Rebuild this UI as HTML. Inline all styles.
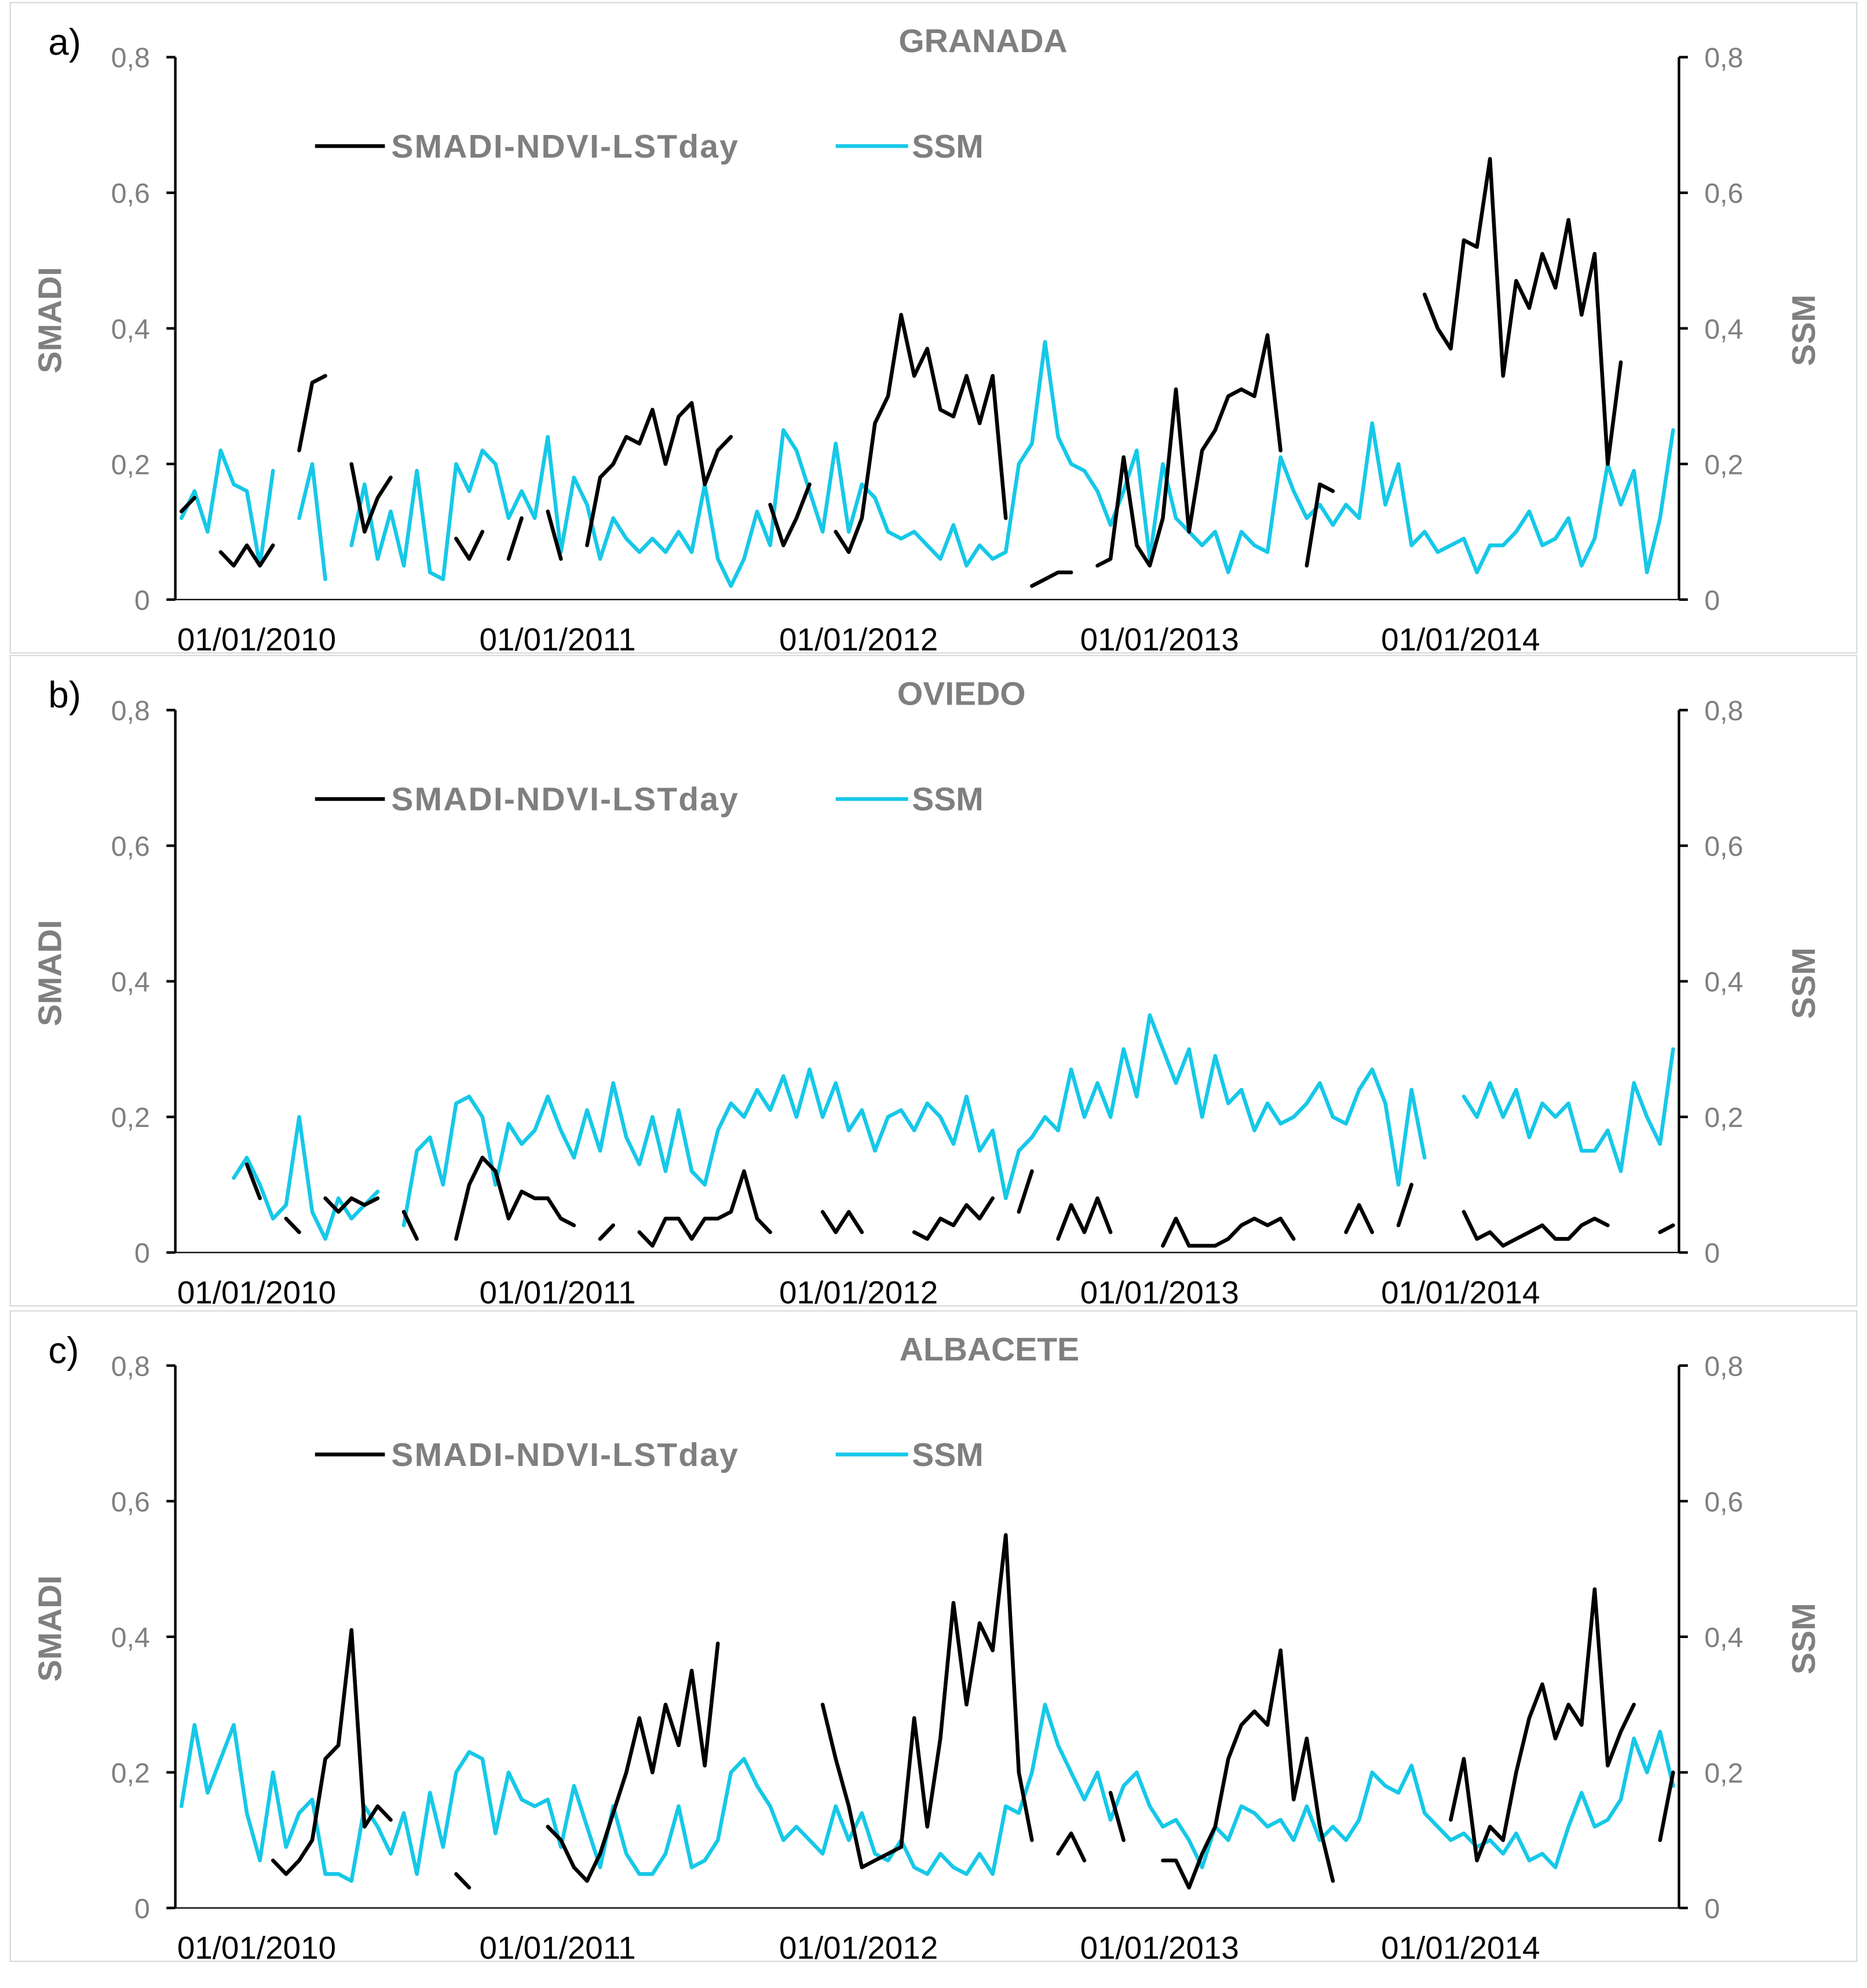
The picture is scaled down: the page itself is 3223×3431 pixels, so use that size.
<!DOCTYPE html>
<html><head><meta charset="utf-8"><style>
html,body{margin:0;padding:0;background:#fff;}
svg{display:block;}
text{font-family:"Liberation Sans",sans-serif;}
</style></head><body>
<svg id="chart" width="3223" height="3431" viewBox="0 0 1470 1565" xmlns="http://www.w3.org/2000/svg"></svg>
<script>
const n = null;
const panelNames = ["GRANADA", "OVIEDO", "ALBACETE"];
const panelLetters = ["a)", "b)", "c)"];
const yTicks = [0, 0.2, 0.4, 0.6, 0.8];
const yTickLabels = ["0", "0,2", "0,4", "0,6", "0,8"];
const xTickYears = [2010, 2011, 2012, 2013, 2014];
const xTickLabels = ["01/01/2010", "01/01/2011", "01/01/2012", "01/01/2013", "01/01/2014"];
const startYear = 2009.75;
const stepsPerYear = 23;
const granadaSmadi = [.13,.15,n,.07,.05,.08,.05,.08,n,.22,
.32,.33,n,.2,.1,.15,.18,n,.2,n,
n,.09,.06,.1,n,.06,.12,n,.13,.06,
n,.08,.18,.2,.24,.23,.28,.2,.27,.29,
.17,.22,.24,n,n,.14,.08,.12,.17,n,
.1,.07,.12,.26,.3,.42,.33,.37,.28,.27,
.33,.26,.33,.12,n,.02,.03,.04,.04,n,
.05,.06,.21,.08,.05,.12,.31,.1,.22,.25,
.3,.31,.3,.39,.22,n,.05,.17,.16,n,
n,n,n,n,n,.45,.4,.37,.53,.52,
.65,.33,.47,.43,.51,.46,.56,.42,.51,.2,
.35,n,n,n,n];
const granadaSsm = [.12,.16,.1,.22,.17,.16,.05,.19,n,.12,
.2,.03,n,.08,.17,.06,.13,.05,.19,.04,
.03,.2,.16,.22,.2,.12,.16,.12,.24,.07,
.18,.14,.06,.12,.09,.07,.09,.07,.1,.07,
.17,.06,.02,.06,.13,.08,.25,.22,.16,.1,
.23,.1,.17,.15,.1,.09,.1,.08,.06,.11,
.05,.08,.06,.07,.2,.23,.38,.24,.2,.19,
.16,.11,.16,.22,.06,.2,.12,.1,.08,.1,
.04,.1,.08,.07,.21,.16,.12,.14,.11,.14,
.12,.26,.14,.2,.08,.1,.07,.08,.09,.04,
.08,.08,.1,.13,.08,.09,.12,.05,.09,.2,
.14,.19,.04,.12,.25];
const oviedoSmadi = [n,n,n,n,n,.13,.08,n,.05,.03,
n,.08,.06,.08,.07,.08,n,.06,.02,n,
n,.02,.1,.14,.12,.05,.09,.08,.08,.05,
.04,n,.02,.04,n,.03,.01,.05,.05,.02,
.05,.05,.06,.12,.05,.03,n,n,n,.06,
.03,.06,.03,n,n,n,.03,.02,.05,.04,
.07,.05,.08,n,.06,.12,n,.02,.07,.03,
.08,.03,n,n,n,.01,.05,.01,.01,.01,
.02,.04,.05,.04,.05,.02,n,n,n,.03,
.07,.03,n,.04,.1,n,n,n,.06,.02,
.03,.01,.02,.03,.04,.02,.02,.04,.05,.04,
n,n,n,.03,.04];
const oviedoSsm = [n,n,n,n,.11,.14,.1,.05,.07,.2,
.06,.02,.08,.05,.07,.09,n,.04,.15,.17,
.1,.22,.23,.2,.1,.19,.16,.18,.23,.18,
.14,.21,.15,.25,.17,.13,.2,.12,.21,.12,
.1,.18,.22,.2,.24,.21,.26,.2,.27,.2,
.25,.18,.21,.15,.2,.21,.18,.22,.2,.16,
.23,.15,.18,.08,.15,.17,.2,.18,.27,.2,
.25,.2,.3,.23,.35,.3,.25,.3,.2,.29,
.22,.24,.18,.22,.19,.2,.22,.25,.2,.19,
.24,.27,.22,.1,.24,.14,n,n,.23,.2,
.25,.2,.24,.17,.22,.2,.22,.15,.15,.18,
.12,.25,.2,.16,.3];
const albaceteSmadi = [n,n,n,n,n,n,n,.07,.05,.07,
.1,.22,.24,.41,.12,.15,.13,n,n,n,
n,.05,.03,n,n,n,n,n,.12,.1,
.06,.04,.08,.14,.2,.28,.2,.3,.24,.35,
.21,.39,n,n,n,n,n,n,n,.3,
.22,.15,.06,.07,.08,.09,.28,.12,.25,.45,
.3,.42,.38,.55,.2,.1,n,.08,.11,.07,
n,.17,.1,n,n,.07,.07,.03,.08,.12,
.22,.27,.29,.27,.38,.16,.25,.12,.04,n,
n,n,n,n,n,n,n,.13,.22,.07,
.12,.1,.2,.28,.33,.25,.3,.27,.47,.21,
.26,.3,n,.1,.2];
const albaceteSsm = [.15,.27,.17,.22,.27,.14,.07,.2,.09,.14,
.16,.05,.05,.04,.15,.12,.08,.14,.05,.17,
.09,.2,.23,.22,.11,.2,.16,.15,.16,.09,
.18,.12,.06,.15,.08,.05,.05,.08,.15,.06,
.07,.1,.2,.22,.18,.15,.1,.12,.1,.08,
.15,.1,.14,.08,.07,.1,.06,.05,.08,.06,
.05,.08,.05,.15,.14,.2,.3,.24,.2,.16,
.2,.13,.18,.2,.15,.12,.13,.1,.06,.12,
.1,.15,.14,.12,.13,.1,.15,.1,.12,.1,
.13,.2,.18,.17,.21,.14,.12,.1,.11,.09,
.1,.08,.11,.07,.08,.06,.12,.17,.12,.13,
.16,.25,.2,.26,.18];
const smadiSeries = [granadaSmadi, oviedoSmadi, albaceteSmadi];
const ssmSeries = [granadaSsm, oviedoSsm, albaceteSsm];

const svg = document.getElementById('chart');
const NS = 'http://www.w3.org/2000/svg';
function mk(tag, attrs, parent) {
  const e = document.createElementNS(NS, tag);
  for (const k in attrs) e.setAttribute(k, attrs[k]);
  (parent || svg).appendChild(e);
  return e;
}
const X0 = 138, X1 = 1322;
const panelOffsets = [0, 514, 1030];
function xOfYear(y) { return 202 + (y - 2010) * 237; }
function xOfIndex(i) { return xOfYear(startYear + i / stepsPerYear); }
function yScale(v, base) { return base - v * 533.75; }
const GRAY = '#7f7f7f';
const CYAN = '#16c8e8';

const bg = mk('rect', {x:0, y:0, width:1470, height:1565, fill:'#fff'});



for (let p = 0; p < 3; p++) {
  const dy = panelOffsets[p];
  const base = 472 + dy;
  const g = mk('g', {});
  
  
  const frame = mk('rect', {x:8, y:2 + dy, width:1454, height:512, fill:'none', stroke:'#d9d9d9', 'stroke-width':1}, g);
  
  

  const lt = mk('text', {x:38, y:43 + dy, 'font-size':29, fill:'#000'}, g);
  lt.textContent = panelLetters[p];
  
  

  const tt = mk('text', {x:[774,757,779][p], y:41 + dy, 'font-size':26, 'font-weight':'bold', fill:GRAY, 'text-anchor':'middle'}, g);
  tt.textContent = panelNames[p];
  
  

  const la = mk('line', {x1:X0, y1:45 + dy, x2:X0, y2:base, stroke:'#000', 'stroke-width':2}, g);
  
  
  const ra = mk('line', {x1:X1, y1:45 + dy, x2:X1, y2:base, stroke:'#000', 'stroke-width':2}, g);
  
  
  const xa = mk('line', {x1:X0, y1:base, x2:X1, y2:base, stroke:'#000', 'stroke-width':1}, g);
  
  

  yTicks.forEach((v, k) => {
    const y = yScale(v, base);
    mk('line', {x1:X0 - 7, y1:y, x2:X0, y2:y, stroke:'#000', 'stroke-width':2}, g);
    mk('line', {x1:X1, y1:y, x2:X1 + 7, y2:y, stroke:'#000', 'stroke-width':2}, g);
    const tl = mk('text', {x:X0 - 20, y:y + 8, 'font-size':22, fill:GRAY, 'text-anchor':'end'}, g);
    tl.textContent = yTickLabels[k];
    
    
    const tr = mk('text', {x:X1 + 20, y:y + 8, 'font-size':22, fill:GRAY}, g);
    tr.textContent = yTickLabels[k];
    
    
  });
  xTickYears.forEach((yr, k) => {
    const xl = mk('text', {x:xOfYear(yr), y:base + 40, 'font-size':25, fill:'#000', 'text-anchor':'middle'}, g);
    xl.textContent = xTickLabels[k];
    
    
  });

  const yl = mk('text', {x:0, y:0, 'font-size':26, 'font-weight':'bold', fill:GRAY, 'text-anchor':'middle', transform:'translate(48,' + (252 + dy) + ') rotate(-90)'}, g);
  yl.textContent = 'SMADI';
  
  
  const yr2 = mk('text', {x:0, y:0, 'font-size':26, 'font-weight':'bold', fill:GRAY, 'text-anchor':'middle', transform:'translate(1429,' + (260 + dy) + ') rotate(-90)'}, g);
  yr2.textContent = 'SSM';
  
  

  const lg = mk('g', {}, g);
  
  
  mk('line', {x1:248, y1:115 + dy, x2:303, y2:115 + dy, stroke:'#000', 'stroke-width':3}, lg);
  const l1 = mk('text', {x:308, y:124 + dy, 'font-size':26, 'font-weight':'bold', fill:GRAY, textLength:273}, lg);
  l1.textContent = 'SMADI-NDVI-LSTday';
  
  
  mk('line', {x1:658, y1:115 + dy, x2:715, y2:115 + dy, stroke:CYAN, 'stroke-width':3}, lg);
  const l2 = mk('text', {x:718, y:124 + dy, 'font-size':26, 'font-weight':'bold', fill:GRAY}, lg);
  l2.textContent = 'SSM';
  
  

  function drawSeries(arr, color, name) {
    let d = '', pen = false;
    arr.forEach((v, i) => {
      if (v === null) { pen = false; return; }
      d += (pen ? 'L' : 'M') + xOfIndex(i).toFixed(1) + ' ' + yScale(v, base).toFixed(1) + ' ';
      pen = true;
    });
    const path = mk('path', {d:d, fill:'none', stroke:color, 'stroke-width':3, 'stroke-linejoin':'round', 'stroke-linecap':'round'}, g);
    
    
  }
  drawSeries(ssmSeries[p], CYAN, 'ssm-line');
  drawSeries(smadiSeries[p], '#000', 'smadi-line');
}
</script>
</body></html>
